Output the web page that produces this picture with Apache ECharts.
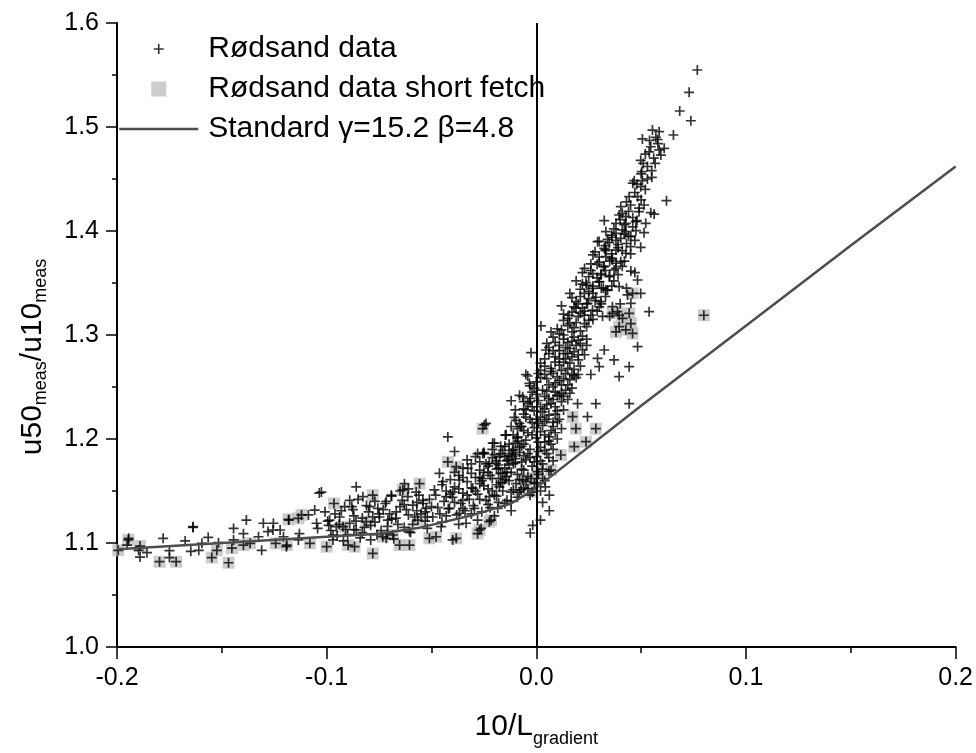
<!DOCTYPE html>
<html>
<head>
<meta charset="utf-8">
<title>u50/u10 vs 10/L</title>
<script src="https://cdn.jsdelivr.net/npm/echarts@6/dist/echarts.min.js"></script>
<style>
    html, body { margin: 0; padding: 0; background: #fff; }
    #ratio-chart { width: 976px; height: 753px; }
</style>
</head>
<body>
<div id="ratio-chart"></div>
<script>
// axis ranges
var xTicks = [-0.2, -0.1, 0.0, 0.1, 0.2];
var yTicks = [1.0, 1.1, 1.2, 1.3, 1.4, 1.5, 1.6];
var tickStep = 0.1;
var zeroLine = 0;

// Rødsand data, points [10/L, u50/u10]
var rodsandLeft = [
    [-0.1944,1.1045],[-0.1952,1.098],[-0.1897,1.093],[-0.189,1.0865],[-0.1857,1.0907],[-0.178,1.1045],
    [-0.175,1.0926],[-0.175,1.086],[-0.1675,1.102],[-0.1638,1.115],[-0.1648,1.092],[-0.161,1.093],
    [-0.1595,1.0997],[-0.1565,1.1055],[-0.1516,1.1003],[-0.1444,1.114],[-0.1444,1.103],[-0.1397,1.109],
    [-0.1383,1.122],[-0.1325,1.106],[-0.131,1.093],[-0.1302,1.119],[-0.128,1.111],[-0.1254,1.119],
    [-0.1256,1.1125],[-0.1222,1.1125],[-0.1206,1.106],[-0.1192,1.0965],[-0.118,1.122],[-0.1135,1.103],
    [-0.113,1.109],[-0.1087,1.127],[-0.1057,1.1317],[-0.1048,1.119],[-0.1043,1.114],[-0.1035,1.148],
    [-0.1008,1.130],[-0.0995,1.121],[-0.097,1.1077],[-0.1637,1.1157]
];
var rodsandMid = [
    [-0.1025,1.149],[-0.0859,1.154],[-0.0827,1.1445],[-0.0914,1.135],[-0.0875,1.132],[-0.0938,1.125],
    [-0.0986,1.122],[-0.0954,1.1157],[-0.089,1.119],[-0.0859,1.1125],[-0.0795,1.135],[-0.0756,1.1333],
    [-0.0716,1.140],[-0.0692,1.146],[-0.0668,1.130],[-0.0748,1.125],[-0.0708,1.122],[-0.0629,1.157],
    [-0.0613,1.1445],[-0.0589,1.1365],[-0.0573,1.149],[-0.0541,1.141],[-0.0525,1.1333],[-0.0494,1.125],
    [-0.0716,1.1045],[-0.0605,1.111],[-0.0454,1.1157],[-0.0335,1.119],[-0.0367,1.1286],[-0.0263,1.114],
    [-0.0399,1.103],[-0.098,1.112],[-0.094,1.118],[-0.090,1.108],[-0.086,1.121],[-0.082,1.115],
    [-0.078,1.125],[-0.074,1.112],[-0.070,1.128],[-0.066,1.118],[-0.062,1.132],[-0.058,1.125],
    [-0.054,1.138],[-0.096,1.128],[-0.088,1.135],[-0.080,1.130],[-0.072,1.138],[-0.064,1.141],
    [-0.056,1.146],[-0.092,1.102],[-0.084,1.105],[-0.076,1.108],[-0.068,1.104],[-0.060,1.110],
    [-0.052,1.114],[-0.085,1.142],[-0.077,1.120],[-0.069,1.123],[-0.061,1.127],[-0.053,1.130],
    [-0.065,1.150],
    [-0.099,1.117],[-0.095,1.107],[-0.091,1.113],[-0.087,1.126],[-0.083,1.110],[-0.079,1.117],
    [-0.075,1.128],[-0.071,1.116],[-0.067,1.124],[-0.063,1.137],[-0.059,1.118],[-0.055,1.128],
    [-0.051,1.142],[-0.093,1.131],[-0.089,1.141],[-0.081,1.136],[-0.073,1.132],[-0.065,1.135],
    [-0.057,1.139],[-0.097,1.103],[-0.083,1.124],[-0.077,1.140],[-0.069,1.145],[-0.061,1.152],
    [-0.057,1.131],[-0.053,1.121],[-0.071,1.109],[-0.087,1.113],[-0.079,1.103],[-0.063,1.115]
];
var rodsandNearZero = [
    [-0.0486,1.151],[-0.0462,1.167],[-0.0446,1.159],[-0.043,1.1445],[-0.0414,1.1333],[-0.0399,1.149],
    [-0.039,1.188],[-0.0422,1.202],[-0.0367,1.1606],[-0.0351,1.141],[-0.0327,1.1718],[-0.0303,1.1526],
    [-0.0295,1.1333],[-0.028,1.186],[-0.0256,1.162],[-0.024,1.215],[-0.0248,1.186],[-0.0224,1.1445],
    [-0.0208,1.196],[-0.0192,1.1766],[-0.0176,1.154],[-0.016,1.167],[-0.0144,1.204],[-0.0137,1.180],
    [-0.012,1.149],[-0.0113,1.189],[-0.0097,1.218],[-0.0184,1.1333],[-0.012,1.140],[-0.0248,1.2135],
    [-0.046,1.128],[-0.042,1.133],[-0.038,1.127],[-0.034,1.131],[-0.030,1.136],[-0.026,1.130],
    [-0.022,1.134],[-0.018,1.139],[-0.044,1.140],[-0.040,1.144],[-0.036,1.138],[-0.032,1.142],
    [-0.028,1.147],[-0.024,1.141],[-0.020,1.146],[-0.016,1.150],[-0.043,1.150],[-0.039,1.154],
    [-0.035,1.148],[-0.031,1.153],[-0.027,1.157],[-0.023,1.152],[-0.019,1.156],[-0.015,1.161],
    [-0.041,1.161],[-0.037,1.165],[-0.033,1.159],[-0.029,1.163],[-0.025,1.168],[-0.021,1.162],
    [-0.017,1.167],[-0.013,1.175],[-0.035,1.172],[-0.031,1.176],[-0.027,1.170],[-0.023,1.174],
    [-0.019,1.179],[-0.015,1.183],[-0.029,1.183],[-0.025,1.187],[-0.021,1.190],[-0.017,1.193],
    [-0.050,1.135],[-0.048,1.146],[-0.052,1.125],[-0.045,1.120],[-0.037,1.118],[-0.028,1.122],
    [-0.020,1.126],[-0.012,1.131],
    [-0.047,1.134],[-0.043,1.126],[-0.039,1.139],[-0.035,1.133],[-0.031,1.128],[-0.027,1.142],
    [-0.023,1.137],[-0.019,1.145],[-0.015,1.138],[-0.045,1.156],[-0.041,1.147],[-0.037,1.152],
    [-0.033,1.146],[-0.029,1.150],[-0.025,1.155],[-0.021,1.150],[-0.017,1.158],[-0.013,1.160],
    [-0.039,1.168],[-0.035,1.163],[-0.031,1.167],[-0.027,1.163],[-0.023,1.168],[-0.019,1.171],
    [-0.015,1.172],[-0.011,1.176],[-0.033,1.180],[-0.027,1.178],[-0.021,1.182],[-0.017,1.186],
    [-0.013,1.195],[-0.009,1.198],
    [-0.026,1.160],[-0.022,1.165],[-0.018,1.162],[-0.014,1.168],[-0.024,1.176],[-0.018,1.175],
    [-0.014,1.179],[-0.020,1.185],[-0.010,1.181],[-0.016,1.189],[-0.012,1.186],[-0.008,1.192]
];
var rodsandCore = [
    [0.0022,1.3087],[-0.0025,1.283],[0.0046,1.2856],[-0.0041,1.2606],[-0.0033,1.2535],[-0.012,1.2368],
    [-0.0065,1.2407],[-0.0105,1.2208],[-0.0148,1.2038],[-0.02,1.196],[-0.0256,1.186],[-0.0176,1.183],
    [-0.0224,1.1766],[-0.0113,1.183],[-0.0089,1.202],[-0.0073,1.212],[-0.0049,1.228],[-0.0144,1.1638],
    [-0.0097,1.157],[-0.0073,1.151],[-0.0017,1.117],[0.002,1.122],[0.0062,1.146],[0.003,1.139],
    [0.0062,1.131],[0.0043,1.154],[-0.0029,1.1096],
    [-0.014,1.141],[-0.009,1.144],[-0.003,1.146],[0.002,1.150],[-0.011,1.151],[-0.006,1.153],
    [-0.001,1.157],[0.004,1.160],[-0.016,1.158],[-0.008,1.161],[-0.004,1.164],[0.001,1.166],
    [0.006,1.169],[-0.012,1.168],[-0.007,1.171],[-0.002,1.174],[0.003,1.176],[0.008,1.179],
    [-0.018,1.172],[-0.010,1.177],[-0.005,1.180],[0.000,1.183],[0.005,1.186],[-0.013,1.184],
    [-0.008,1.187],[-0.003,1.190],[0.002,1.192],[0.007,1.195],[-0.015,1.193],[-0.010,1.196],
    [-0.005,1.199],[0.000,1.201],[0.004,1.204],[0.009,1.206],[-0.011,1.204],[-0.006,1.208],
    [-0.001,1.211],[0.003,1.213],[0.008,1.216],[-0.008,1.215],[-0.003,1.219],[0.002,1.221],
    [0.006,1.223],[0.011,1.219],
    [-0.006,1.224],[-0.001,1.227],[0.004,1.229],[0.009,1.231],[0.013,1.228],[-0.004,1.234],
    [0.001,1.237],[0.006,1.239],[0.011,1.242],[0.015,1.238],[-0.002,1.245],[0.003,1.247],
    [0.008,1.250],[0.012,1.252],[0.017,1.249],[0.000,1.255],[0.005,1.258],[0.010,1.260],
    [0.014,1.263],[0.019,1.259],[0.002,1.266],[0.007,1.268],[0.011,1.271],[0.016,1.273],
    [0.021,1.270],[0.004,1.277],[0.009,1.279],[0.013,1.282],[0.018,1.284],[0.023,1.281],
    [0.006,1.288],[0.011,1.290],[0.015,1.293],[0.020,1.295],[0.008,1.298],[0.013,1.300],
    [0.017,1.303],[0.022,1.299],[-0.008,1.242],[-0.005,1.262],[0.026,1.262],[0.024,1.290],
    [0.0371,1.276],[0.0443,1.2695],[0.0395,1.26],[0.0324,1.2856],[0.0292,1.2776],[0.03,1.2695],
    [0.0443,1.234],[0.0284,1.234],[0.0244,1.2215],[0.0197,1.234],[0.0483,1.2888],
    [-0.004,1.152],[0.000,1.158],[-0.009,1.166],[0.003,1.171],[-0.001,1.178],[-0.006,1.184],
    [0.006,1.182],[0.001,1.188],[-0.007,1.193],[0.004,1.197],[-0.002,1.204],[0.007,1.208],
    [-0.009,1.210],[0.001,1.215],[0.005,1.219],[-0.005,1.221],[0.009,1.224],[0.003,1.226],
    [-0.002,1.231],[0.007,1.234],[0.012,1.236],[-0.006,1.236],[0.004,1.241],[0.009,1.245],
    [0.014,1.247],[-0.001,1.249],[0.006,1.252],[0.011,1.256],[0.002,1.259],[0.016,1.257],
    [0.008,1.263],[0.012,1.266],[0.018,1.267],[0.004,1.270],[0.009,1.274],[0.014,1.277],
    [0.020,1.276],[0.006,1.282],[0.011,1.285],[0.016,1.287],[0.022,1.286],[0.009,1.293],
    [0.013,1.296],[0.018,1.298],[0.024,1.296],[0.010,1.242],[0.015,1.252],[0.020,1.262],
    [-0.010,1.228],[-0.012,1.212],[0.012,1.210],[0.010,1.200],[-0.011,1.190],[0.008,1.190],
    [-0.004,1.186],[0.003,1.162],[-0.006,1.170],[0.013,1.274],[0.019,1.290],[0.001,1.263],
    [0.015,1.282],[0.021,1.292],[0.007,1.303],[0.012,1.244],[0.017,1.262],[0.005,1.233],
    [0.000,1.219],[-0.003,1.239],[0.010,1.217],[0.006,1.198],
    [-0.007,1.178],[-0.003,1.182],[0.002,1.179],[-0.010,1.185],[0.004,1.189],[-0.006,1.195],
    [0.001,1.197],[-0.009,1.201],[0.006,1.202],[-0.004,1.206],[0.002,1.207],[-0.007,1.212],
    [0.008,1.212],[-0.002,1.216],[0.004,1.217],[-0.006,1.229],[0.002,1.231],[0.010,1.227],
    [-0.003,1.236],[0.008,1.238],[0.013,1.241],[0.000,1.243],[0.005,1.246],[0.016,1.244],
    [-0.003,1.251],[0.009,1.254],[0.013,1.258],[0.004,1.262],[0.018,1.261],[0.007,1.265],
    [0.015,1.268],[0.002,1.273],[0.011,1.277],[0.017,1.279],[0.008,1.285],[0.014,1.288],
    [0.020,1.281],[0.005,1.292],[0.017,1.294],[0.011,1.301],[0.021,1.304]
];
var rodsandUpper = [
    [0.0768,1.5548],[0.0729,1.5333],[0.0684,1.5154],[0.0737,1.506],[0.0654,1.4923],[0.0554,1.497],
    [0.0586,1.4955],[0.0506,1.4885],[0.0578,1.488],[0.0546,1.481],[0.0538,1.476],[0.0586,1.478],
    [0.061,1.4795],[0.0594,1.473],[0.0567,1.465],[0.0498,1.468],[0.0503,1.457],[0.0551,1.4516],
    [0.0467,1.4484],[0.0506,1.4484],[0.0498,1.4426],[0.0621,1.4292],[0.0443,1.433],[0.0483,1.433],
    [0.0514,1.425],[0.049,1.4186],[0.0546,1.4176],[0.0562,1.4163],[0.0403,1.4234],[0.0395,1.4154],
    [0.0427,1.4138],[0.0324,1.41],[0.038,1.4074],[0.0427,1.4074],[0.0475,1.409],[0.0522,1.4074],
    [0.0332,1.3994],[0.038,1.3978],[0.0427,1.3994],[0.0475,1.4003],[0.0514,1.3984],[0.0403,1.393],
    [0.0451,1.3945],[0.0292,1.3897],[0.0348,1.3888],[0.0498,1.3843],[0.0324,1.3833],[0.038,1.3817],
    [0.0427,1.3786],[0.0332,1.3753],[0.0363,1.3721],[0.0403,1.3705],[0.026,1.3683],[0.0324,1.3657],
    [0.0371,1.3625],[0.0451,1.3615],[0.0308,1.3577],[0.0348,1.356],[0.0483,1.3529],[0.03,1.3513],
    [0.0237,1.3503],[0.0395,1.3465],[0.0268,1.3449],[0.0332,1.3433],[0.0498,1.34],[0.0229,1.34],
    [0.0435,1.3385],[0.0284,1.3363],[0.0244,1.3305],[0.0308,1.332],[0.0451,1.3305],[0.0189,1.3257],
    [0.0268,1.324],[0.0363,1.3272],[0.0157,1.319],[0.0229,1.319],[0.0316,1.318],[0.0538,1.3224],
    [0.0395,1.319],
    [0.010,1.306],[0.015,1.309],[0.019,1.312],[0.024,1.308],[0.013,1.314],[0.020,1.318],
    [0.027,1.315],[0.017,1.322],[0.022,1.326],[0.029,1.323],[0.012,1.328],[0.019,1.332],
    [0.025,1.335],[0.031,1.330],[0.016,1.340],[0.021,1.344],[0.027,1.347],[0.034,1.343],
    [0.019,1.352],[0.025,1.356],[0.031,1.359],[0.037,1.352],[0.023,1.364],[0.029,1.368],
    [0.035,1.371],[0.041,1.366],[0.027,1.377],[0.033,1.381],[0.039,1.384],[0.045,1.378],
    [0.030,1.390],[0.036,1.394],[0.042,1.397],[0.047,1.391],
    [0.012,1.305],[0.018,1.307],[0.023,1.311],[0.015,1.316],[0.021,1.321],[0.026,1.319],
    [0.018,1.327],[0.024,1.330],[0.030,1.327],[0.021,1.337],[0.027,1.340],[0.033,1.337],
    [0.024,1.348],[0.030,1.351],[0.036,1.347],[0.027,1.359],[0.033,1.362],[0.039,1.358],
    [0.030,1.370],[0.036,1.374],[0.042,1.371],[0.033,1.382],[0.039,1.387],[0.045,1.385],
    [0.036,1.396],[0.041,1.401],[0.046,1.404],[0.040,1.411],[0.044,1.419],[0.049,1.422],
    [0.043,1.428],[0.047,1.437],[0.052,1.440],[0.046,1.446],[0.050,1.455],[0.053,1.462],
    [0.056,1.470],[0.052,1.474],[0.058,1.484],[0.034,1.392],[0.028,1.380],[0.022,1.360],
    [0.035,1.318],[0.040,1.330],[0.043,1.345],[0.047,1.360],[0.038,1.364],[0.044,1.395],
    [0.048,1.410],[0.032,1.345],
    [0.016,1.311],[0.025,1.314],[0.013,1.320],[0.023,1.323],[0.020,1.330],[0.028,1.333],
    [0.017,1.336],[0.025,1.342],[0.031,1.345],[0.022,1.349],[0.029,1.355],[0.035,1.357],
    [0.026,1.362],[0.032,1.366],[0.038,1.369],[0.030,1.375],[0.036,1.378],[0.041,1.381],
    [0.033,1.386],[0.038,1.391],[0.043,1.388],[0.037,1.402],[0.042,1.406],[0.046,1.413],
    [0.041,1.417],[0.045,1.425],[0.050,1.430],[0.048,1.445],[0.053,1.450],[0.055,1.458],
    [0.051,1.465],[0.057,1.490],[0.054,1.487]
];

// Rødsand data short fetch
var shortFetchLeft = [
    [-0.1994,1.093],[-0.1946,1.103],[-0.189,1.097],[-0.1797,1.082],[-0.1718,1.082],[-0.1548,1.086],
    [-0.1524,1.093],[-0.1468,1.081],[-0.1452,1.095],[-0.1397,1.098],[-0.1365,1.0997],[-0.1243,1.0997],
    [-0.119,1.098],[-0.1182,1.1227],[-0.1135,1.1237],[-0.112,1.127],[-0.108,1.0997],[-0.1,1.0965],
    [-0.0965,1.138]
];
var shortFetchMid = [
    [-0.0922,1.1157],[-0.0898,1.098],[-0.0867,1.0965],[-0.0811,1.1205],[-0.078,1.146],[-0.078,1.090],
    [-0.0732,1.106],[-0.0684,1.1077],[-0.0652,1.098],[-0.0637,1.151],[-0.0605,1.098],[-0.0565,1.122],
    [-0.0557,1.157],[-0.051,1.1045],[-0.0478,1.106],[-0.0422,1.178],[-0.0382,1.1734],[-0.0382,1.1045],
    [-0.028,1.109],[-0.0271,1.1125],[-0.0256,1.210],[-0.0224,1.1205],[-0.0216,1.122]
];
var shortFetchRight = [
    [-0.0081,1.149],[-0.0019,1.149],[-0.0065,1.1606],[-0.0049,1.159],[-0.0025,1.162],[0.0006,1.1686],
    [0.007,1.170],[0.0117,1.1846],[0.0181,1.1926],[0.0237,1.1974],[0.0173,1.2215],[0.0189,1.210],
    [0.0284,1.210],[0.0363,1.3208],[0.0395,1.308],[0.0443,1.3208],[0.0451,1.311],[0.038,1.303],
    [0.0459,1.3015],[0.0459,1.340],[0.0411,1.316],[0.0427,1.305],[0.0387,1.3224],[0.0799,1.319]
];

// Standard gamma=15.2 beta=4.8 curve
var standardX = [-0.2, -0.15, -0.1, -0.075, -0.055, -0.03, -0.012, 0.0, 0.05, 0.1, 0.15, 0.2];
var standardY = [1.094, 1.100, 1.106, 1.109, 1.115, 1.127, 1.138, 1.153, 1.232, 1.309, 1.386, 1.462];

var shortFetch = shortFetchLeft.concat(shortFetchMid, shortFetchRight);
var rodsand = rodsandLeft.concat(rodsandMid, rodsandNearZero, rodsandCore, rodsandUpper, shortFetch);
var standardLine = standardX.map(function (x, i) { return [x, standardY[i]]; });

var plusPath = 'path://M4.15,0H5.85V4.15H10V5.85H5.85V10H4.15V5.85H0V4.15H4.15Z';
var legendPlus = 'path://M0,0M15,15M6.7,2.5H8.3V6.7H12.5V8.3H8.3V12.5H6.7V8.3H2.5V6.7H6.7Z';
var legendSquare = 'path://M0,0H10V10H0Z';

var font = 'Liberation Sans';

function tickLabel(v) {
    if (Math.abs(v) < 1e-9) return '0.0';
    return v.toFixed(1);
}

var ratioChart = echarts.init(document.getElementById('ratio-chart'));
var option = {
    animation: false,
    backgroundColor: '#fff',
    grid: { left: 117, right: 20, top: 23, bottom: 106 },
    legend: {
        orient: 'vertical',
        left: 118,
        top: 34,
        padding: 0,
        itemGap: 10,
        itemWidth: 79,
        itemHeight: 15,
        selectedMode: false,
        textStyle: { fontSize: 30, color: '#000', fontFamily: font, padding: [0, 0, 0, 5] },
        data: [
            { name: 'Rødsand data', icon: legendPlus },
            { name: 'Rødsand data short fetch', icon: legendSquare },
            { name: 'Standard γ=15.2 β=4.8', itemStyle: { opacity: 0 }, lineStyle: { width: 2.5, color: '#4d4d4d' } }
        ]
    },
    xAxis: {
        type: 'value',
        min: xTicks[0],
        max: xTicks[xTicks.length - 1],
        interval: tickStep,
        name: '{a|10/L}{b|gradient}',
        nameLocation: 'middle',
        nameGap: 58,
        nameTextStyle: {
            color: '#000',
            fontFamily: font,
            rich: {
                a: { fontSize: 30, fontFamily: font, color: '#000' },
                b: { fontSize: 18, fontFamily: font, color: '#000', padding: [25, 0, 0, 0] }
            }
        },
        axisLine: { show: true, onZero: false, lineStyle: { color: '#000', width: 2 } },
        axisTick: { show: true, inside: false, length: 12, lineStyle: { color: '#000', width: 1.5 } },
        minorTick: { show: true, splitNumber: 2, length: 6, lineStyle: { color: '#000', width: 1.5 } },
        axisLabel: { fontSize: 25, color: '#000', fontFamily: font, margin: 19, formatter: tickLabel },
        splitLine: { show: false }
    },
    yAxis: {
        type: 'value',
        min: yTicks[0],
        max: yTicks[yTicks.length - 1],
        interval: tickStep,
        name: '{a|u50}{b|meas}{a|/u10}{b|meas}',
        nameLocation: 'middle',
        nameGap: 67,
        nameTextStyle: {
            color: '#000',
            fontFamily: font,
            padding: [0, 44, 0, 0],
            rich: {
                a: { fontSize: 30, fontFamily: font, color: '#000' },
                b: { fontSize: 18, fontFamily: font, color: '#000', padding: [17, 0, 0, 0] }
            }
        },
        axisLine: { show: true, onZero: false, lineStyle: { color: '#000', width: 2 } },
        axisTick: { show: true, inside: false, length: 11, lineStyle: { color: '#000', width: 1.5 } },
        minorTick: { show: true, splitNumber: 2, length: 5, lineStyle: { color: '#000', width: 1.5 } },
        axisLabel: { fontSize: 25, color: '#000', fontFamily: font, margin: 18, formatter: tickLabel },
        splitLine: { show: false }
    },
    series: [
        {
            name: 'Rødsand data short fetch',
            type: 'scatter',
            symbol: 'rect',
            symbolSize: 12,
            itemStyle: { color: '#c0c0c0' },
            z: 2,
            data: shortFetch
        },
        {
            name: 'Rødsand data',
            type: 'scatter',
            symbol: plusPath,
            symbolSize: 10,
            itemStyle: { color: '#000' },
            z: 3,
            data: rodsand
        },
        {
            name: 'Standard γ=15.2 β=4.8',
            type: 'line',
            symbol: 'none',
            z: 4,
            lineStyle: { color: '#4d4d4d', width: 2.5 },
            itemStyle: { color: '#4d4d4d' },
            markLine: {
                silent: true,
                symbol: ['none', 'none'],
                label: { show: false },
                lineStyle: { color: '#000', width: 2, type: 'solid' },
                data: [{ xAxis: zeroLine }]
            },
            data: standardLine
        }
    ]
};
ratioChart.setOption(option);
</script>
</body>
</html>
